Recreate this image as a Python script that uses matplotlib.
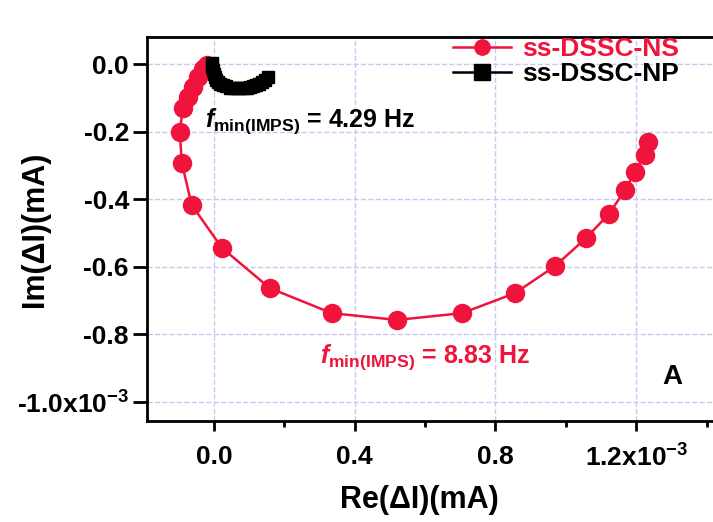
import matplotlib
matplotlib.use("Agg")
import matplotlib.pyplot as plt
from matplotlib.ticker import FixedLocator, FuncFormatter

plt.rcParams['font.family'] = ['Liberation Sans', 'DejaVu Sans']
plt.rcParams['font.weight'] = 'bold'
plt.rcParams['mathtext.fontset'] = 'custom'
plt.rcParams['mathtext.rm'] = 'Liberation Sans:bold'
plt.rcParams['mathtext.it'] = 'Liberation Sans:bold:italic'
plt.rcParams['mathtext.bf'] = 'Liberation Sans:bold'

RED = '#f0143c'

# ss-DSSC-NS (x1e-3 A)
ns_re = [1.233, 1.224, 1.196, 1.168, 1.122, 1.057, 0.969, 0.855, 0.705, 0.520,
         0.335, 0.159, 0.023, -0.063, -0.091, -0.097, -0.088, -0.074, -0.060,
         -0.045, -0.031, -0.020]
ns_im = [-0.231, -0.269, -0.320, -0.373, -0.444, -0.515, -0.598, -0.678, -0.737,
         -0.757, -0.737, -0.663, -0.544, -0.417, -0.293, -0.201, -0.130, -0.098,
         -0.068, -0.038, -0.015, -0.003]

# ss-DSSC-NP
np_re = [-0.006, -0.005, -0.003, 0.000, 0.003, 0.007, 0.011, 0.018, 0.026, 0.035,
         0.045, 0.055, 0.065, 0.075, 0.085, 0.094, 0.102, 0.111, 0.119, 0.128,
         0.136, 0.145, 0.153]
np_im = [0.003, -0.008, -0.018, -0.028, -0.038, -0.046, -0.053, -0.058, -0.062,
         -0.066, -0.070, -0.071, -0.071, -0.072, -0.071, -0.070, -0.068, -0.065,
         -0.062, -0.058, -0.053, -0.046, -0.038]

x_ticks = [0.0, 0.4, 0.8, 1.2]
x_minor = [0.2, 0.6, 1.0, 1.4]
y_ticks = [0.0, -0.2, -0.4, -0.6, -0.8, -1.0]

ns_re = [v * 1e-3 for v in ns_re]
ns_im = [v * 1e-3 for v in ns_im]
np_re = [v * 1e-3 for v in np_re]
np_im = [v * 1e-3 for v in np_im]


def make_fmt(last):
    def fmt(v, pos):
        s = '%.1f' % (v * 1e3)
        if s == '-0.0':
            s = '0.0'
        if abs(v * 1e3 - last) < 1e-6:
            s += r'x10$^{-3}$'
        return s
    return fmt


fig = plt.figure(figsize=(7.13, 5.22), dpi=100)
ax = fig.add_axes([147 / 713, 1 - 421 / 522, 1 - 147 / 713, (421 - 37) / 522])

ax.plot(ns_re, ns_im, '-o', color=RED, lw=1.8, ms=13, label='ss-DSSC-NS', zorder=3)
ax.plot(np_re, np_im, '-s', color='black', lw=1.8, ms=9, label='ss-DSSC-NP', zorder=3)

ax.set_xlim(-0.19e-3, 1.418e-3)
ax.set_ylim(-1.056e-3, 0.08e-3)

ax.xaxis.set_major_locator(FixedLocator([v * 1e-3 for v in x_ticks]))
ax.xaxis.set_minor_locator(FixedLocator([v * 1e-3 for v in x_minor]))
ax.yaxis.set_major_locator(FixedLocator([v * 1e-3 for v in y_ticks]))
ax.xaxis.set_major_formatter(FuncFormatter(make_fmt(1.2)))
ax.yaxis.set_major_formatter(FuncFormatter(make_fmt(-1.0)))

ax.tick_params(which='major', width=2, labelsize=19, direction='out')
ax.tick_params(axis='x', which='major', length=7, pad=10)
ax.tick_params(axis='x', which='minor', length=4, width=2, direction='out')
ax.tick_params(axis='y', which='major', length=10, pad=3)
ax.spines['right'].set_visible(False)
for s in ['left', 'bottom', 'top']:
    ax.spines[s].set_linewidth(2)

ax.grid(True, which='major', color='#c8c8f0', ls='--', lw=1)
ax.set_axisbelow(True)

ax.set_xlabel('Re(ΔI)(mA)', fontsize=22, fontweight='bold')
ax.set_ylabel('Im(ΔI)(mA)', fontsize=22, fontweight='bold')
ax.xaxis.set_label_coords(0.482, -0.206)
ax.yaxis.set_label_coords(-0.198, 0.5)
ax.xaxis.label.set_va('center')
ax.yaxis.label.set_va('center')

ax.text(-0.026e-3, -0.186e-3, r'$f_{\mathrm{min(IMPS)}}$ = 4.29 Hz',
        fontsize=18, color='black', va='baseline', ha='left')
ax.text(0.301e-3, -0.885e-3, r'$f_{\mathrm{min(IMPS)}}$ = 8.83 Hz',
        fontsize=18, color=RED, va='baseline', ha='left')
ax.text(1.301e-3, -0.926e-3, 'A', fontsize=20, color='black', ha='center', va='center')

leg = ax.legend(loc='upper left', bbox_to_anchor=(453 / 713, 1 - 37 / 522),
                bbox_transform=fig.transFigure, frameon=False,
                fontsize=19, handlelength=2.2, handletextpad=0.4,
                labelspacing=0.05, borderaxespad=0, borderpad=0)
leg.get_texts()[0].set_color(RED)
for h in leg.legend_handles:
    h.set_markersize(11)

fig.savefig('out.png', dpi=100)
